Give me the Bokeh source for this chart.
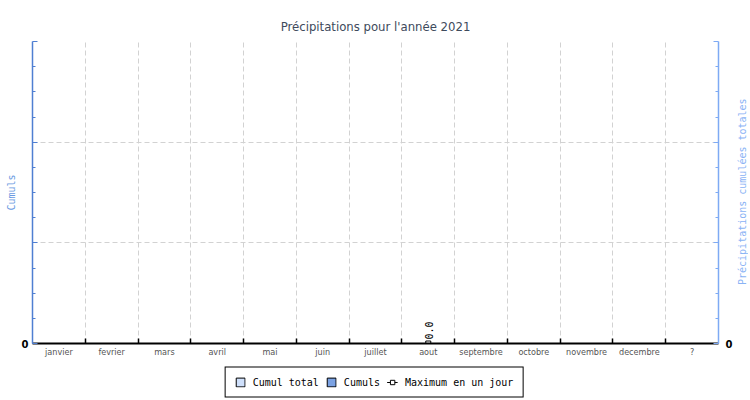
import math
from bokeh.plotting import figure
from bokeh.layouts import row, column
from bokeh.models import (FactorRange, Range1d, LinearAxis, FixedTicker, Legend, LegendItem,
                          ColumnDataSource, Grid, Div)
from bokeh.core.properties import value
from bokeh.embed import file_html
from bokeh.resources import INLINE

# ---- data ----
months = ["janvier", "fevrier", "mars", "avril", "mai", "juin", "juillet",
          "aout", "septembre", "octobre", "novembre", "decembre", "?"]
cumul_total = [0, 0, 0, 0, 0, 0, 0, 0, 0, 0, 0, 0, 0]
cumuls = [0, 0, 0, 0, 0, 0, 0, 0, 0, 0, 0, 0, 0]
nan = float("nan")
max_jour = [nan, nan, nan, nan, nan, nan, nan, 0.0, nan, nan, nan, nan, nan]
max_jour_text = ["", "", "", "", "", "", "", "0.0", "", "", "", "", ""]
y_ticks = [0, 1, 2, 3]
y_minor = [0.25, 0.5, 0.75, 1.25, 1.5, 1.75, 2.25, 2.5, 2.75]
y_labels = {0: "0", 1: "", 2: "", 3: ""}
title_text = "Précipitations pour l'année 2021"
left_label = "Cumuls"
right_label = "Précipitations cumulées totales"
legend_labels = ["Cumul total", "Cumuls", "Maximum en un jour"]

MONO = "DejaVu Sans Mono"
COND = "DejaVu Sans Condensed"
LEFT_BLUE = "#4f7fd2"
RIGHT_BLUE = "#7eaaf4"
TOT_FILL = "#cfe0fb"
CUM_FILL = "#7ba2e3"

TOP = 41
BOTTOM = 22
H = 365
LEG_H = 34
SIDE_W = 10

src = ColumnDataSource(dict(m=months, tot=cumul_total, cum=cumuls, mx=max_jour, mxt=max_jour_text))

p = figure(width=738, height=H,
           x_range=FactorRange(factors=months, range_padding=0),
           y_range=Range1d(0, y_ticks[-1]),
           x_axis_type=None, y_axis_type=None,
           output_backend="svg", toolbar_location=None,
           min_border_left=32, min_border_right=20, min_border_top=TOP, min_border_bottom=BOTTOM)
p.extra_y_ranges = {"cumul": Range1d(0, y_ticks[-1])}
p.outline_line_color = None
p.background_fill_color = "white"
p.border_fill_color = "white"

p.title.text = title_text
p.title.align = "center"
p.title.text_font = COND
p.title.text_font_size = "13px"
p.title.text_font_style = "normal"
p.title.text_color = "#3e4a5c"
p.title.standoff = 16

# grids
n = len(months)
boundaries = list(range(1, n))
centers = [i + 0.5 for i in range(n)]
p.add_layout(Grid(dimension=0, ticker=FixedTicker(ticks=boundaries),
                  grid_line_color="#d2d2d2", grid_line_dash="5 3", grid_line_width=1))
p.add_layout(Grid(dimension=1, ticker=FixedTicker(ticks=y_ticks[1:]),
                  grid_line_color="#d2d2d2", grid_line_dash="5 3", grid_line_width=1))

# x axis
xaxis = LinearAxis(ticker=FixedTicker(ticks=centers, minor_ticks=boundaries),
                   major_label_overrides={c: m for c, m in zip(centers, months)})
xaxis.axis_line_color = "black"
xaxis.axis_line_width = 2
xaxis.major_tick_line_color = None
xaxis.major_tick_in = 0
xaxis.major_tick_out = 0
xaxis.minor_tick_in = 5
xaxis.minor_tick_out = 0
xaxis.minor_tick_line_color = "black"
xaxis.minor_tick_line_width = 1.5
xaxis.major_label_text_font = COND
xaxis.major_label_text_font_size = "9px"
xaxis.major_label_text_color = "#555555"
xaxis.major_label_standoff = 3
p.add_layout(xaxis, "below")

# y axes
def style_y(ax, color):
    ax.axis_line_color = color
    ax.axis_line_width = 1.5
    ax.major_tick_line_color = color
    ax.minor_tick_line_color = color
    ax.major_tick_in = 5
    ax.major_tick_out = 0
    ax.minor_tick_in = 3
    ax.minor_tick_out = 0
    ax.major_label_text_font = "DejaVu Sans"
    ax.major_label_text_font_size = "10px"
    ax.major_label_text_font_style = "bold"
    ax.major_label_text_color = "black"
    ax.major_label_standoff = 4

yl = LinearAxis(ticker=FixedTicker(ticks=y_ticks, minor_ticks=y_minor),
                major_label_overrides=y_labels, axis_label=left_label)
style_y(yl, LEFT_BLUE)
yl.axis_label_text_font = MONO
yl.axis_label_text_font_size = "10px"
yl.axis_label_text_font_style = "normal"
yl.axis_label_text_color = "#6a9ae2"
yl.axis_label_standoff = 2
p.add_layout(yl, "left")

yr = LinearAxis(y_range_name="cumul", ticker=FixedTicker(ticks=y_ticks, minor_ticks=y_minor),
                major_label_overrides=y_labels)
style_y(yr, RIGHT_BLUE)
yr.major_label_standoff = 7
p.add_layout(yr, "right")

# glyphs
p.vbar(x="m", top="tot", width=0.5, source=src, fill_color=TOT_FILL, line_color="black", line_width=1)
p.vbar(x="m", top="cum", width=0.3, source=src, fill_color=CUM_FILL, line_color="black", line_width=1)
p.line(x="m", y="mx", source=src, line_color="black", line_width=1)
p.scatter(x="m", y="mx", source=src, marker="square", size=5, fill_color="white",
          line_color="black", line_width=1)
p.text(x="m", y="mx", text="mxt", source=src, angle=math.pi / 2, text_align="left",
       text_baseline="middle", y_offset=-4, x_offset=1, text_font=value(MONO),
       text_font_size="10px", text_color="black")

# right-hand axis title, reading bottom to top
frame_h = H - TOP - BOTTOM
side = Div(width=SIDE_W, height=H, margin=0,
           text=('<div style="writing-mode: vertical-rl; transform: rotate(180deg); '
                 f'height: {frame_h}px; margin-top: {TOP}px; width: {SIDE_W}px; line-height: {SIDE_W}px; '
                 'text-align: center; white-space: nowrap; font-family: \'DejaVu Sans Mono\'; '
                 f'font-size: 10px; color: #8ab3f5;">{right_label}</div>'))

# legend strip below the chart (proxy renderers hold only a NaN row, so draw nothing)
lf = figure(width=738 + SIDE_W, height=LEG_H, x_range=Range1d(0, 1), y_range=Range1d(0, 1),
            x_axis_type=None, y_axis_type=None, output_backend="svg", toolbar_location=None,
            min_border_left=0, min_border_right=0, min_border_top=0, min_border_bottom=0)
lf.outline_line_color = None
lf.grid.visible = False
lf.background_fill_color = "white"
lf.border_fill_color = "white"
proxy = ColumnDataSource(dict(x=[nan], y=[nan]))
l_tot = lf.vbar(x="x", top="y", width=0.5, source=proxy, fill_color=TOT_FILL, line_color="black", line_width=1)
l_cum = lf.vbar(x="x", top="y", width=0.5, source=proxy, fill_color=CUM_FILL, line_color="black", line_width=1)
l_line = lf.line(x="x", y="y", source=proxy, line_color="black", line_width=1)
l_pts = lf.scatter(x="x", y="y", source=proxy, marker="square", size=5, fill_color="white",
                   line_color="black", line_width=1)
legend = Legend(items=[LegendItem(label=legend_labels[0], renderers=[l_tot]),
                       LegendItem(label=legend_labels[1], renderers=[l_cum]),
                       LegendItem(label=legend_labels[2], renderers=[l_line, l_pts])],
                location="center", orientation="horizontal",
                label_text_font=MONO, label_text_font_size="10px", label_text_color="black",
                glyph_width=11, glyph_height=11, label_standoff=7, spacing=7, padding=9, margin=0,
                border_line_color="black", border_line_width=1, border_line_alpha=1,
                background_fill_color="white", background_fill_alpha=1, label_height=11)
lf.add_layout(legend, "center")

layout = column(row(p, side, spacing=0), lf, spacing=0)
open("out.html", "w").write(file_html(layout, INLINE))
